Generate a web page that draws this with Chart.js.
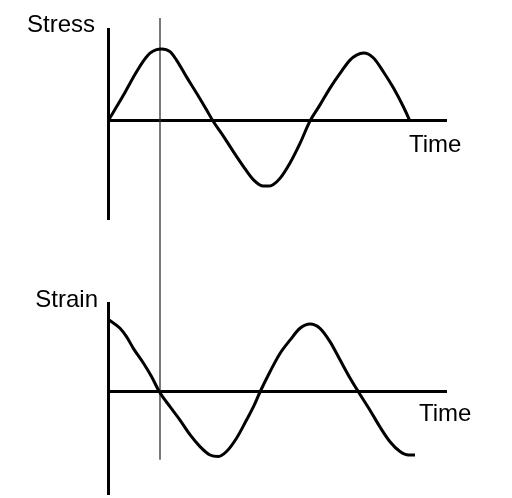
<!DOCTYPE html>
<html>
<head>
<meta charset="utf-8">
<script src="https://cdn.jsdelivr.net/npm/chart.js@4"></script>
<style>
  body { margin: 0; background: #fff; }
  #wrap { position: relative; width: 512px; height: 498px; }
</style>
</head>
<body>
<div id="wrap"><canvas id="waveChart"></canvas></div>
<script>
// Time in arbitrary units
const stressTime = [0, 3.1, 5.1, 7.1, 8.4, 9.7, 10.7, 12.4, 13.7, 15.7, 17.7, 19.7, 21.0, 23.1, 25.1, 27.1, 29.1, 31.1, 32.1, 33.0, 34.4, 36.4, 38.4, 40.4, 42.4, 44.4, 46.4, 48.4, 49.7, 51.1, 53.1, 55.1, 57.1, 59.1, 60.4];
const stressValues = [0, 0.37, 0.63, 0.86, 0.97, 1.02, 1.03, 0.99, 0.87, 0.63, 0.40, 0.16, 0, -0.22, -0.44, -0.65, -0.84, -0.93, -0.93, -0.91, -0.82, -0.60, -0.32, 0, 0.23, 0.47, 0.68, 0.87, 0.94, 0.97, 0.90, 0.70, 0.47, 0.20, 0];

const strainTime = [0.2, 2.4, 3.7, 5.1, 7.1, 8.7, 10.3, 12.4, 14.4, 16.4, 18.4, 20.4, 22.1, 23.7, 25.7, 27.7, 29.1, 30.4, 32.4, 34.4, 36.4, 38.4, 40.4, 42.4, 44.4, 46.4, 48.4, 50.1, 52.4, 54.4, 56.4, 58.4, 60.1, 61.4];
const strainValues = [1.03, 0.91, 0.79, 0.62, 0.41, 0.22, 0, -0.21, -0.40, -0.61, -0.78, -0.90, -0.92, -0.85, -0.66, -0.40, -0.21, 0, 0.29, 0.55, 0.74, 0.91, 0.97, 0.91, 0.72, 0.46, 0.20, 0, -0.26, -0.50, -0.71, -0.85, -0.90, -0.90];

// thin marker at the stress peak, running down through both panels
const markerTime = [10.4, 10.4];
const markerValues = [1.47, -4.84];

const toPoints = (xs, ys) => xs.map((x, i) => ({ x, y: ys[i] }));

// zero lines only, drawn as the y grid
const zeroGrid = {
  drawTicks: false,
  color: ctx => ctx.tick && ctx.tick.value === 0 ? '#000' : 'transparent',
  lineWidth: ctx => ctx.tick && ctx.tick.value === 0 ? 3 : 0
};
const blankAxis = (weight) => ({
  type: 'linear', position: 'left', stack: 'panels', stackWeight: weight,
  min: 0, max: 1,
  ticks: { display: false },
  grid: { display: false, drawTicks: false },
  border: { display: false }
});

const labelPlugin = {
  id: 'labels',
  afterDraw(chart) {
    const { ctx, chartArea, scales } = chart;
    ctx.save();
    ctx.fillStyle = '#000';
    ctx.font = '24px "Liberation Sans", Arial, sans-serif';
    ctx.textBaseline = 'alphabetic';

    ctx.textAlign = 'right';
    ctx.fillText('Stress', chartArea.left - 13, scales.yStress.top + 3);
    ctx.fillText('Strain', chartArea.left - 10, scales.yStrain.top + 4);

    ctx.textAlign = 'left';
    ctx.fillText('Time', chartArea.right - 38, scales.yStress.getPixelForValue(0) + 31);
    ctx.fillText('Time', chartArea.right - 28, scales.yStrain.getPixelForValue(0) + 29);
    ctx.restore();
  }
};

new Chart(document.getElementById('waveChart'), {
  type: 'line',
  data: {
    datasets: [
      {
        label: 'Stress',
        data: toPoints(stressTime, stressValues),
        yAxisID: 'yStress',
        borderColor: '#000',
        borderWidth: 3,
        cubicInterpolationMode: 'monotone',
        pointRadius: 0
      },
      {
        label: 'Strain',
        data: toPoints(strainTime, strainValues),
        yAxisID: 'yStrain',
        borderColor: '#000',
        borderWidth: 3,
        cubicInterpolationMode: 'monotone',
        pointRadius: 0
      },
      {
        label: 'Phase',
        data: toPoints(markerTime, markerValues),
        yAxisID: 'yStress',
        borderColor: '#333',
        borderWidth: 1.3,
        pointRadius: 0,
        clip: false
      }
    ]
  },
  options: {
    responsive: true,
    maintainAspectRatio: false,
    animation: false,
    layout: { padding: { left: 108, right: 65, top: 18, bottom: 3 } },
    plugins: { legend: { display: false }, tooltip: { enabled: false } },
    scales: {
      x: { type: 'linear', min: 0, max: 67.8, display: false },
      // stacked bottom-up: strain, gap, stress, top gap
      yStrain: {
        type: 'linear', position: 'left', stack: 'panels', stackWeight: 192,
        min: -1.471, max: 1.271,
        ticks: { display: false, stepSize: 1 },
        grid: zeroGrid,
        border: { display: true, color: '#000', width: 3 }
      },
      yGap: blankAxis(83),
      yStress: {
        type: 'linear', position: 'left', stack: 'panels', stackWeight: 191,
        min: -1.414, max: 1.314,
        ticks: { display: false, stepSize: 1 },
        grid: zeroGrid,
        border: { display: true, color: '#000', width: 3 }
      },
      yTop: blankAxis(11)
    }
  },
  plugins: [labelPlugin]
});
</script>
</body>
</html>
